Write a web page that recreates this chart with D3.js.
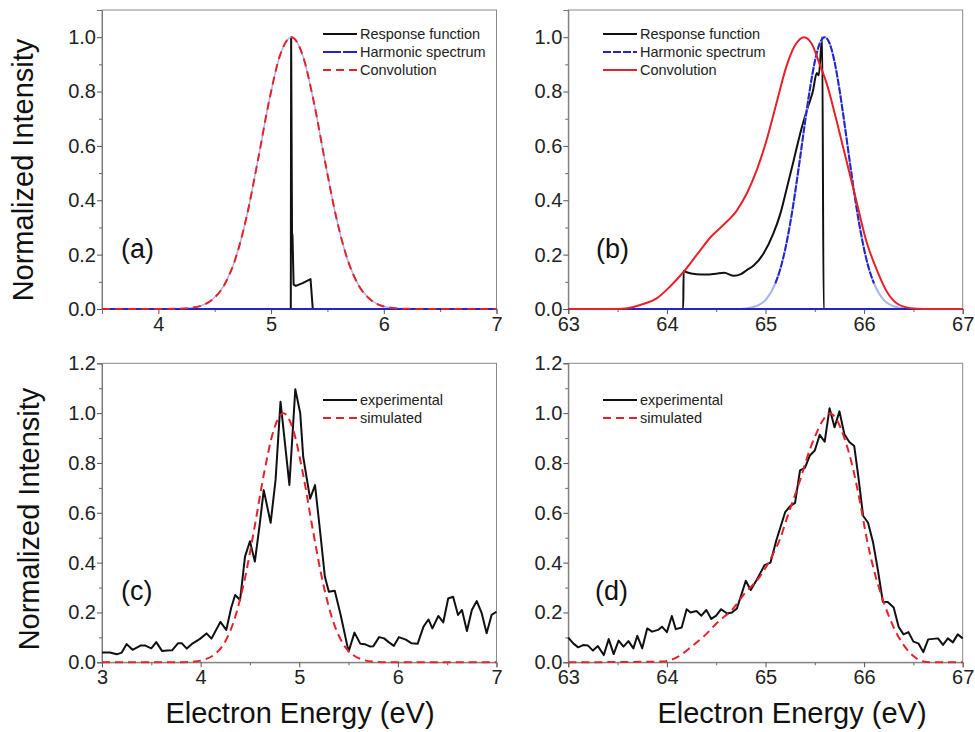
<!DOCTYPE html>
<html><head><meta charset="utf-8">
<script src="https://cdn.jsdelivr.net/npm/d3@7"></script>
<style>body{margin:0;background:#fff}svg{display:block}</style>
</head><body>
<svg id="chart" width="975" height="732"></svg>
<script>
// ---------- DATA ----------
// Panel (a)
const aRespEnergy = [3.5, 5.175, 5.178, 5.186, 5.19, 5.2, 5.22, 5.28, 5.35, 5.37, 7.0];
const aResponse   = [0, 0, 1.0, 0.28, 0.27, 0.09, 0.085, 0.095, 0.11, 0, 0];
const aEnergy = [3.5, 3.98, 4.18, 4.28, 4.38, 4.48, 4.58, 4.68, 4.78, 4.88, 4.98, 5.08, 5.18, 5.28, 5.38, 5.48, 5.58, 5.68, 5.78, 5.88, 5.98, 6.08, 6.18, 6.38, 7.0];
const aHarmonic    = [0, 0, 0.001, 0.004, 0.012, 0.035, 0.085, 0.18, 0.334, 0.54, 0.76, 0.934, 1.0, 0.934, 0.76, 0.54, 0.334, 0.18, 0.085, 0.035, 0.012, 0.004, 0.001, 0, 0];
const aConvolution = [0, 0, 0.001, 0.004, 0.012, 0.035, 0.085, 0.18, 0.334, 0.54, 0.76, 0.934, 1.0, 0.934, 0.76, 0.54, 0.334, 0.18, 0.085, 0.035, 0.012, 0.004, 0.001, 0, 0];

// Panel (b)
const bRespEnergy = [63, 64.165, 64.17, 64.2, 64.3, 64.4, 64.5, 64.58, 64.68, 64.75, 64.81, 64.88, 64.98, 65.08, 65.15, 65.22, 65.29, 65.36, 65.43, 65.48, 65.52, 65.54, 65.575, 65.59, 67];
const bResponse   = [0, 0, 0.14, 0.135, 0.128, 0.127, 0.13, 0.133, 0.122, 0.128, 0.143, 0.16, 0.204, 0.278, 0.35, 0.45, 0.553, 0.657, 0.743, 0.80, 0.868, 0.86, 1.0, 0, 0];
const bHarmEnergy = [63, 64.7, 64.8, 64.9, 65.0, 65.1, 65.15, 65.2, 65.25, 65.3, 65.35, 65.4, 65.45, 65.5, 65.55, 65.6, 65.65, 65.7, 65.75, 65.8, 65.85, 65.9, 65.95, 66.0, 66.05, 66.1, 66.2, 66.3, 66.4, 66.5, 67];
const bHarmonic   = [0, 0, 0.002, 0.01, 0.033, 0.094, 0.147, 0.22, 0.314, 0.427, 0.554, 0.685, 0.808, 0.91, 0.977, 1.0, 0.977, 0.91, 0.808, 0.685, 0.554, 0.427, 0.314, 0.22, 0.147, 0.094, 0.033, 0.01, 0.002, 0, 0];
const bConvEnergy = [63, 63.5, 63.6, 63.73, 63.9, 64.03, 64.17, 64.34, 64.44, 64.57, 64.71, 64.81, 64.91, 65.01, 65.11, 65.21, 65.30, 65.39, 65.47, 65.55, 65.62, 65.72, 65.82, 65.92, 66.02, 66.13, 66.23, 66.33, 66.47, 66.6, 67];
const bConvolution = [0, 0, 0.003, 0.015, 0.04, 0.082, 0.137, 0.217, 0.263, 0.308, 0.363, 0.425, 0.51, 0.62, 0.755, 0.89, 0.97, 1.0, 0.975, 0.90, 0.83, 0.694, 0.547, 0.40, 0.253, 0.143, 0.064, 0.021, 0.003, 0, 0];

// Panel (c)
const cEnergy = [3.0, 3.08, 3.15, 3.2, 3.25, 3.31, 3.39, 3.44, 3.5, 3.55, 3.61, 3.66, 3.71, 3.77, 3.81, 3.86, 3.92, 3.99, 4.06, 4.11, 4.2, 4.26, 4.31, 4.35, 4.4, 4.45, 4.5, 4.55, 4.6, 4.64, 4.71, 4.76, 4.81, 4.9, 4.96, 5.01, 5.04, 5.11, 5.16, 5.21, 5.26, 5.30, 5.36, 5.42, 5.5, 5.56, 5.62, 5.67, 5.72, 5.75, 5.81, 5.86, 5.91, 5.96, 6.01, 6.08, 6.14, 6.2, 6.26, 6.31, 6.35, 6.41, 6.46, 6.51, 6.56, 6.61, 6.65, 6.7, 6.75, 6.8, 6.85, 6.9, 6.95, 7.0];
const cExperimental = [0.039, 0.039, 0.032, 0.039, 0.073, 0.05, 0.067, 0.067, 0.056, 0.081, 0.045, 0.047, 0.048, 0.076, 0.076, 0.055, 0.076, 0.093, 0.116, 0.095, 0.162, 0.13, 0.219, 0.27, 0.25, 0.424, 0.486, 0.404, 0.557, 0.691, 0.56, 0.732, 1.046, 0.712, 1.096, 1.0, 0.825, 0.657, 0.711, 0.531, 0.343, 0.283, 0.287, 0.19, 0.043, 0.119, 0.074, 0.072, 0.063, 0.064, 0.101, 0.096, 0.08, 0.066, 0.101, 0.091, 0.076, 0.074, 0.143, 0.172, 0.136, 0.186, 0.16, 0.256, 0.263, 0.19, 0.21, 0.126, 0.21, 0.246, 0.197, 0.117, 0.19, 0.203];
const cSimEnergy = [3.0, 3.8, 3.94, 4.04, 4.14, 4.24, 4.34, 4.44, 4.54, 4.64, 4.74, 4.84, 4.94, 5.04, 5.14, 5.24, 5.34, 5.44, 5.54, 5.64, 5.74, 5.9, 7.0];
const cSimulated = [0, 0, 0.003, 0.011, 0.031, 0.077, 0.169, 0.32, 0.527, 0.752, 0.931, 1.0, 0.931, 0.752, 0.527, 0.32, 0.169, 0.077, 0.031, 0.011, 0.003, 0, 0];

// Panel (d)
const dEnergy = [63.0, 63.05, 63.1, 63.15, 63.2, 63.25, 63.3, 63.36, 63.41, 63.46, 63.51, 63.56, 63.61, 63.66, 63.7, 63.75, 63.8, 63.85, 63.91, 63.95, 64.0, 64.05, 64.09, 64.15, 64.2, 64.24, 64.3, 64.35, 64.4, 64.45, 64.5, 64.55, 64.61, 64.66, 64.71, 64.76, 64.8, 64.85, 64.91, 64.95, 64.99, 65.05, 65.11, 65.2, 65.25, 65.3, 65.35, 65.4, 65.45, 65.5, 65.55, 65.6, 65.65, 65.7, 65.75, 65.8, 65.85, 65.9, 65.94, 65.99, 66.04, 66.09, 66.14, 66.19, 66.24, 66.3, 66.35, 66.4, 66.45, 66.5, 66.55, 66.6, 66.65, 66.7, 66.75, 66.8, 66.85, 66.9, 66.95, 67.0];
const dExperimental = [0.099, 0.076, 0.06, 0.069, 0.067, 0.047, 0.065, 0.029, 0.093, 0.033, 0.087, 0.063, 0.085, 0.056, 0.106, 0.056, 0.136, 0.123, 0.13, 0.143, 0.121, 0.186, 0.133, 0.14, 0.213, 0.2, 0.206, 0.187, 0.21, 0.174, 0.187, 0.213, 0.196, 0.2, 0.216, 0.277, 0.327, 0.29, 0.33, 0.36, 0.39, 0.40, 0.49, 0.603, 0.627, 0.64, 0.77, 0.78, 0.83, 0.85, 0.913, 0.885, 1.02, 0.943, 1.007, 0.915, 0.884, 0.868, 0.75, 0.588, 0.56, 0.483, 0.37, 0.243, 0.242, 0.22, 0.143, 0.112, 0.121, 0.083, 0.076, 0.041, 0.092, 0.094, 0.096, 0.07, 0.096, 0.08, 0.112, 0.096];
const dSimEnergy = [63, 63.95, 64.11, 64.25, 64.39, 64.52, 64.66, 64.79, 64.93, 65.08, 65.15, 65.21, 65.28, 65.35, 65.42, 65.5, 65.58, 65.65, 65.72, 65.8, 65.88, 65.96, 66.03, 66.1, 66.2, 66.3, 66.4, 66.5, 66.6, 66.7, 67];
const dSimulated = [0, 0.003, 0.022, 0.063, 0.11, 0.163, 0.21, 0.277, 0.337, 0.437, 0.497, 0.57, 0.65, 0.73, 0.82, 0.904, 0.97, 1.0, 0.975, 0.90, 0.79, 0.64, 0.49, 0.37, 0.24, 0.14, 0.07, 0.025, 0.003, 0, 0];

// Tick labels / text
const xTicksLow = [4, 5, 6, 7];
const xTicksLowC = [3, 4, 5, 6, 7];
const xTicksHigh = [63, 64, 65, 66, 67];
const yTicksTop = [0, 0.2, 0.4, 0.6, 0.8, 1.0];
const yTicksBottom = [0, 0.2, 0.4, 0.6, 0.8, 1.0, 1.2];
const legendTop = ["Response function", "Harmonic spectrum", "Convolution"];
const legendBottom = ["experimental", "simulated"];
const panelLabels = ["(a)", "(b)", "(c)", "(d)"];
const yTitle = "Normalized Intensity";
const xTitle = "Electron Energy (eV)";

// ---------- DRAW ----------
const FONT = "'Liberation Sans', Arial, Helvetica, sans-serif";
const svg = d3.select("#chart");
const BLACK = "#111", BLUE = "#2424cc", LBLUE = "#a9b3ee", RED = "#e5222a";
const zip = (xs, ys) => xs.map((x, i) => ({x, y: ys[i]}));

function panel(o) {
  const g = svg.append("g");
  const x = d3.scaleLinear().domain(o.xd).range([o.l, o.r]);
  const y = d3.scaleLinear().domain(o.yd).range([o.b, o.t]);
  // frame
  g.append("rect").attr("x", o.l).attr("y", o.t).attr("width", o.r - o.l).attr("height", o.b - o.t)
    .attr("fill", "none").attr("stroke", "#8a8a8a").attr("stroke-width", 1);
  const styleAxis = sel => {
    sel.select(".domain").attr("stroke", "#777");
    sel.selectAll(".tick line").attr("stroke", "#555");
    sel.selectAll("text").attr("font-size", 20).attr("font-family", FONT).attr("fill", "#222");
  };
  // minor ticks
  g.append("g").attr("transform", `translate(0,${o.b})`)
    .call(d3.axisBottom(x).tickValues(o.xm).tickSize(3).tickFormat(""))
    .call(s => { s.select(".domain").remove(); s.selectAll("line").attr("stroke", "#666"); });
  g.append("g").attr("transform", `translate(${o.l},0)`)
    .call(d3.axisLeft(y).tickValues(o.ym).tickSize(3).tickFormat(""))
    .call(s => { s.select(".domain").remove(); s.selectAll("line").attr("stroke", "#666"); });
  g.append("g").attr("transform", `translate(0,${o.b})`)
    .call(d3.axisBottom(x).tickValues(o.xt).tickSize(5).tickPadding(3).tickFormat(d3.format("d")))
    .call(styleAxis);
  g.append("g").attr("transform", `translate(${o.l},0)`)
    .call(d3.axisLeft(y).tickValues(o.yt).tickSize(5).tickPadding(1).tickFormat(d3.format(".1f")))
    .call(styleAxis);

  const plot = g.append("g");
  o.series.forEach(s => {
    const line = d3.line().x(d => x(d.x)).y(d => y(d.y)).curve(s.curve || d3.curveLinear);
    plot.append("path").datum(s.data).attr("d", line).attr("fill", "none")
      .attr("stroke", s.color).attr("stroke-width", s.width || 2)
      .attr("stroke-dasharray", s.dash || null).attr("stroke-linejoin", "round");
  });
  // legend
  o.legend.forEach((L, i) => {
    const yy = o.legY + i * 18;
    g.append("line").attr("x1", o.legX).attr("x2", o.legX + 34).attr("y1", yy).attr("y2", yy)
      .attr("stroke", L.color).attr("stroke-width", 2).attr("stroke-dasharray", L.dash || null);
    g.append("text").attr("x", o.legX + 37).attr("y", yy + 5).text(L.label)
      .attr("font-size", 14.5).attr("font-family", FONT).attr("fill", "#222");
  });
  g.append("text").attr("x", o.lblX).attr("y", o.lblY).text(o.label)
    .attr("font-size", 27).attr("font-family", FONT).attr("fill", "#111");
}

const mono = d3.curveMonotoneX;
const baseline = xs => xs.map(x => ({x, y: 0}));

panel({
  l: 102, r: 496.5, t: 10, b: 309, xd: [3.5, 7], yd: [0, 1.1],
  xt: xTicksLow, xm: [3.5, 4.5, 5.5, 6.5], yt: yTicksTop, ym: [0.1, 0.3, 0.5, 0.7, 0.9],
  series: [
    {data: zip(aRespEnergy, aResponse), color: BLACK, width: 2},
    {data: zip(aEnergy, aHarmonic), color: LBLUE, width: 1.5, curve: mono},
    {data: baseline([aEnergy[0], aEnergy[aEnergy.length - 1]]), color: BLUE, width: 2},
    {data: zip(aEnergy, aConvolution), color: RED, width: 2, dash: "8,5", curve: mono}
  ],
  legend: [
    {label: legendTop[0], color: BLACK},
    {label: legendTop[1], color: BLUE, dash: "18,2"},
    {label: legendTop[2], color: RED, dash: "8,5"}
  ],
  legX: 323, legY: 34, label: panelLabels[0], lblX: 121, lblY: 258
});

const bHarmStrong = zip(bHarmEnergy, bHarmonic).filter(d => d.y >= 0.06);
panel({
  l: 568.3, r: 962.7, t: 10, b: 309, xd: [63, 67], yd: [0, 1.1],
  xt: xTicksHigh, xm: [63.5, 64.5, 65.5, 66.5], yt: yTicksTop, ym: [0.1, 0.3, 0.5, 0.7, 0.9],
  series: [
    {data: zip(bRespEnergy, bResponse), color: BLACK, width: 2, curve: mono},
    {data: zip(bHarmEnergy, bHarmonic), color: LBLUE, width: 2, curve: mono},
    {data: baseline([bHarmEnergy[0], bHarmEnergy[bHarmEnergy.length - 1]]), color: BLUE, width: 2},
    {data: bHarmStrong, color: BLUE, width: 2, dash: "7,1.5", curve: mono},
    {data: zip(bConvEnergy, bConvolution), color: RED, width: 2, curve: mono}
  ],
  legend: [
    {label: legendTop[0], color: BLACK},
    {label: legendTop[1], color: BLUE, dash: "8,2"},
    {label: legendTop[2], color: RED}
  ],
  legX: 603, legY: 34, label: panelLabels[1], lblX: 596, lblY: 258
});

panel({
  l: 102, r: 496.5, t: 363.3, b: 662.3, xd: [3, 7], yd: [0, 1.2],
  xt: xTicksLowC, xm: [3.5, 4.5, 5.5, 6.5], yt: yTicksBottom, ym: [0.1, 0.3, 0.5, 0.7, 0.9, 1.1],
  series: [
    {data: zip(cEnergy, cExperimental), color: BLACK, width: 2},
    {data: zip(cSimEnergy, cSimulated), color: RED, width: 2, dash: "8,5", curve: mono}
  ],
  legend: [
    {label: legendBottom[0], color: BLACK},
    {label: legendBottom[1], color: RED, dash: "8,5"}
  ],
  legX: 323, legY: 400, label: panelLabels[2], lblX: 121, lblY: 600
});

panel({
  l: 568.3, r: 962.7, t: 363.3, b: 662.3, xd: [63, 67], yd: [0, 1.2],
  xt: xTicksHigh, xm: [63.5, 64.5, 65.5, 66.5], yt: yTicksBottom, ym: [0.1, 0.3, 0.5, 0.7, 0.9, 1.1],
  series: [
    {data: zip(dEnergy, dExperimental), color: BLACK, width: 2},
    {data: zip(dSimEnergy, dSimulated), color: RED, width: 2, dash: "8,5", curve: mono}
  ],
  legend: [
    {label: legendBottom[0], color: BLACK},
    {label: legendBottom[1], color: RED, dash: "8,5"}
  ],
  legX: 603, legY: 400, label: panelLabels[3], lblX: 595, lblY: 600
});

// axis titles
[[33, 170], [39, 519]].forEach(([bx, cy]) => {
  svg.append("text").attr("transform", `translate(${bx},${cy}) rotate(-90)`).attr("text-anchor", "middle")
    .text(yTitle).attr("font-size", 29).attr("font-family", FONT).attr("fill", "#111");
});
[300, 792].forEach(cx => {
  svg.append("text").attr("x", cx).attr("y", 723).attr("text-anchor", "middle")
    .text(xTitle).attr("font-size", 29).attr("font-family", FONT).attr("fill", "#111");
});
</script>
</body></html>
